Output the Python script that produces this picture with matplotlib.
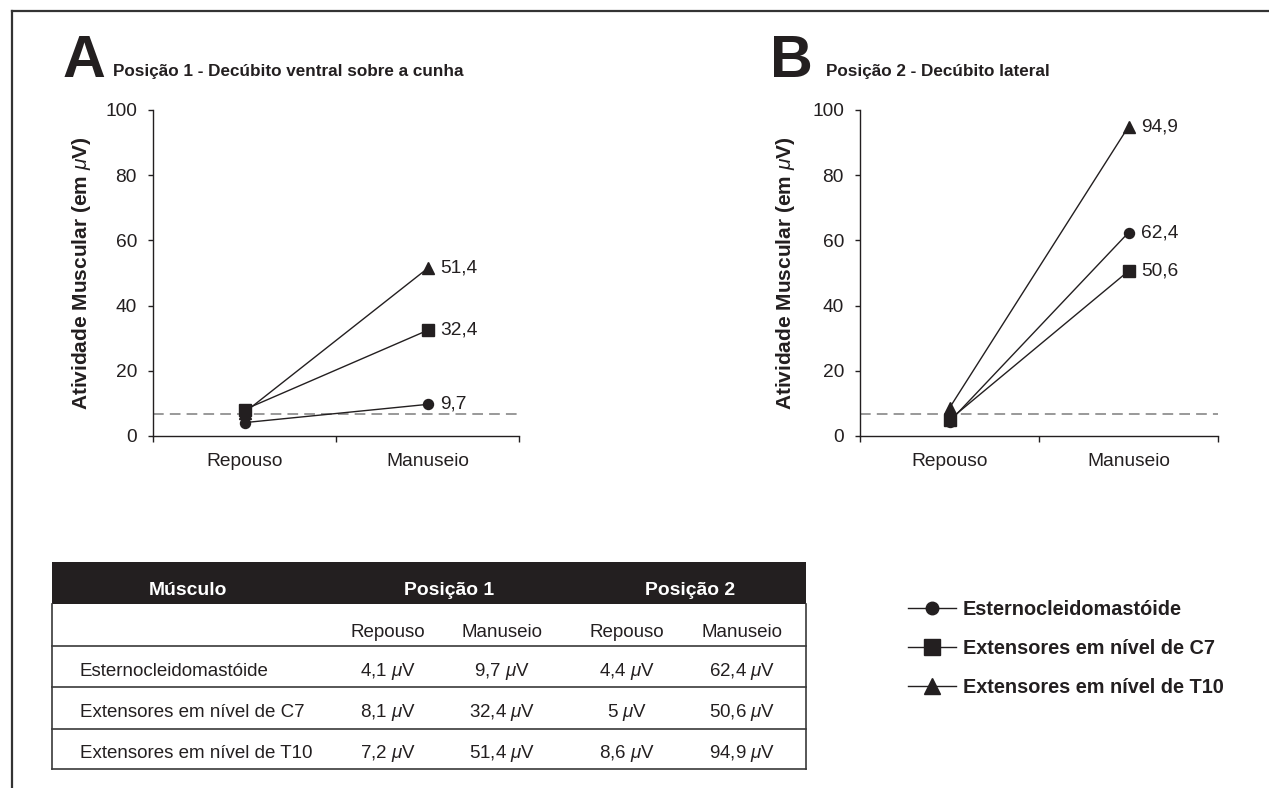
import matplotlib
matplotlib.use('Agg')
import matplotlib.pyplot as plt
from matplotlib import font_manager
from matplotlib.lines import Line2D
from matplotlib.patches import Rectangle

# ---------------- dados ----------------
categorias = ['Repouso', 'Manuseio']
musculos = ['Esternocleidomastóide', 'Extensores em nível de C7',
            'Extensores em nível de T10']

# Posição 1 - decúbito ventral sobre a cunha
esterno_p1 = [4.1, 9.7]
c7_p1 = [8.1, 32.4]
t10_p1 = [7.2, 51.4]

# Posição 2 - decúbito lateral
esterno_p2 = [4.4, 62.4]
c7_p2 = [5.0, 50.6]
t10_p2 = [8.6, 94.9]

limiar = 6.7          # linha tracejada
yticks = [0, 20, 40, 60, 80, 100]

# ---------------- fontes ----------------
# a fonte do original e' condensada; sem Narrow, usa a Liberation Sans menor
names = {f.name for f in font_manager.fontManager.ttflist}
if 'Liberation Sans Narrow' in names:
    FONT, k, kt = 'Liberation Sans Narrow', 1.0, 1.0
elif 'Liberation Sans' in names:
    FONT, k, kt = 'Liberation Sans', 0.86, 0.82
else:
    FONT, k, kt = 'DejaVu Sans', 0.78, 0.76
WIDE = 'Liberation Sans' if 'Liberation Sans' in names else 'DejaVu Sans'

plt.rcParams['font.family'] = FONT
plt.rcParams['mathtext.fontset'] = 'custom'
plt.rcParams['mathtext.it'] = FONT + ':italic'
plt.rcParams['mathtext.rm'] = FONT
plt.rcParams['mathtext.bf'] = FONT + ':bold'

TXT = '#231f20'
W, H = 1269, 788

fig = plt.figure(figsize=(W/100, H/100), dpi=100)


def fx(px):
    return px/W


def fy(py):
    return 1 - py/H


def fmt(v):
    return ('%g' % v).replace('.', ',')


# moldura (topo e esquerda)
fig.add_artist(Line2D([fx(12), 1], [fy(11), fy(11)], color='#333333', lw=1.6))
fig.add_artist(Line2D([fx(12), fx(12)], [fy(11), 0], color='#333333', lw=1.6))

marcadores = ['o', 's', '^']
tam = [7.2, 9.0, 8.5]


def make_panel(left, right, series, letra, titulo, letra_x, titulo_x, ylab_x):
    ax = fig.add_axes([fx(left), fy(436), fx(right-left), (436-110)/H])
    ax.axhline(limiar, color='#7d7d7d', lw=1.1, dashes=(7, 4), zorder=1)
    x = list(range(len(categorias)))
    for vals, m, ms in zip(series, marcadores, tam):
        ax.plot(x, vals, color=TXT, lw=1.0, marker=m, ms=ms, zorder=3)
        ax.annotate(fmt(vals[1]), (x[1], vals[1]), xytext=(9, 0),
                    textcoords='offset points', va='center', ha='left',
                    fontsize=16*k, color=TXT)
    ax.set_xlim(-0.5, 1.5)
    ax.set_ylim(0, 100)
    ax.set_yticks(yticks)
    ax.set_xticks([-0.5, 0.5, 1.5])
    ax.set_xticklabels([])
    ax.set_xticks(x, minor=True)
    ax.set_xticklabels(categorias, minor=True)
    ax.tick_params(axis='y', direction='out', length=3.6, width=1,
                   pad=8, labelsize=16*k, colors=TXT)
    ax.tick_params(axis='x', which='major', direction='out', length=4,
                   width=1, color=TXT)
    ax.tick_params(axis='x', which='minor', length=0, pad=12,
                   labelsize=16*k, labelcolor=TXT)
    for s in ['top', 'right']:
        ax.spines[s].set_visible(False)
    for s in ['left', 'bottom']:
        ax.spines[s].set_color(TXT)
        ax.spines[s].set_linewidth(1.0)
    ax.set_ylabel('Atividade Muscular (em $\\mu$V)', fontfamily=WIDE,
                  fontweight='bold', fontsize=15, color=TXT)
    ax.yaxis.set_label_coords(ylab_x, 0.5)

    fig.text(fx(letra_x), fy(77), letra, fontsize=52*kt, fontweight='bold',
             color=TXT, va='baseline', ha='left')
    fig.text(fx(titulo_x), fy(76), titulo, fontsize=15*kt, fontweight='bold',
             color=TXT, va='baseline', ha='left')
    return ax


axA = make_panel(153, 519, [esterno_p1, c7_p1, t10_p1], 'A',
                 'Posição 1 - Decúbito ventral sobre a cunha', 63, 113, -0.165)
axB = make_panel(860, 1218, [esterno_p2, c7_p2, t10_p2], 'B',
                 'Posição 2 - Decúbito lateral', 770, 826, -0.175)

# ---------------- tabela ----------------
tab = fig.add_axes([fx(52), fy(769), fx(806-52), (769-562)/H])
tab.set_xlim(52, 806)
tab.set_ylim(769, 562)
tab.axis('off')

tab.add_patch(Rectangle((52, 562), 754, 42, color=TXT, lw=0))
for yl in [646, 687, 729, 769]:
    tab.plot([52, 806], [yl, yl], color='#3a3a3a', lw=1.2, clip_on=False)
for xl in [52, 806]:
    tab.plot([xl, xl], [604, 769], color='#3a3a3a', lw=1.2, clip_on=False)

hdr = dict(color='white', fontweight='bold', fontsize=17*kt, ha='center',
           va='baseline')
tab.text(188, 595, 'Músculo', **hdr)
tab.text(449, 595, 'Posição 1', **hdr)
tab.text(690, 595, 'Posição 2', **hdr)

col_x = [388, 502, 627, 742]
for cx, cat in zip(col_x, categorias*2):
    tab.text(cx, 637, cat, ha='center', va='baseline', fontsize=16.5*kt,
             color=TXT)

linhas = [esterno_p1 + esterno_p2, c7_p1 + c7_p2, t10_p1 + t10_p2]
row_base = [676, 717, 758]
for nome, vals, yb in zip(musculos, linhas, row_base):
    tab.text(80, yb, nome, ha='left', va='baseline', fontsize=16.5*kt,
             color=TXT)
    for cx, v in zip(col_x, vals):
        tab.text(cx, yb, fmt(v) + ' $\\mu$V', ha='center', va='baseline',
                 fontsize=16.5*kt, color=TXT)

# ---------------- legenda ----------------
handles = [Line2D([], [], color=TXT, lw=1.0, marker=m, ms=s)
           for m, s in zip(marcadores, [9, 11, 11])]
leg = fig.legend(handles, musculos, loc='upper left',
                 bbox_to_anchor=(fx(908), fy(600)), frameon=False,
                 handlelength=48/(17.5*kt*100/72), handletextpad=0.35,
                 labelspacing=1.0, borderpad=0, borderaxespad=0,
                 prop=dict(family=FONT, weight='bold', size=17.5*kt))
for t in leg.get_texts():
    t.set_color(TXT)

plt.savefig('out.png', dpi=100)
